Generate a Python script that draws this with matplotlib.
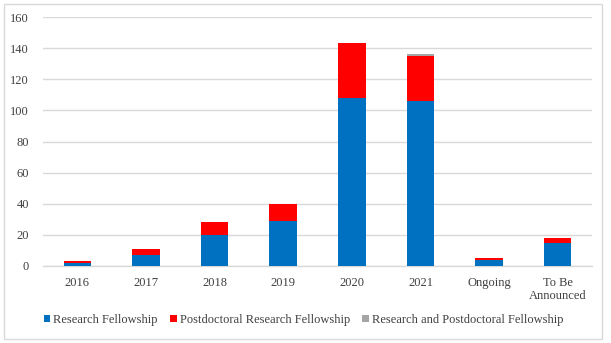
import numpy as np
import matplotlib.pyplot as plt
from matplotlib.patches import Rectangle

categories = ["2016", "2017", "2018", "2019", "2020", "2021", "Ongoing", "To Be\nAnnounced"]
research = [2, 7, 20, 29, 108, 106, 4, 15]
postdoc = [1, 4, 8, 11, 35, 29, 1, 3]
research_postdoc = [0, 0, 0, 0, 0, 1, 0, 0]
yticks = [0, 20, 40, 60, 80, 100, 120, 140, 160]

BLUE = "#0070c0"
RED = "#ff0000"
GRAY = "#a5a5a5"
GRID = "#d9d9d9"

plt.rcParams['font.family'] = ['Liberation Serif', 'DejaVu Serif']

fig = plt.figure(figsize=(6.11, 3.43), dpi=100)
ax = fig.add_axes([0.0704, 0.2245, 0.8985, 0.7259])

x = np.arange(len(categories))
w = 0.4
b1 = np.array(research)
b2 = b1 + np.array(postdoc)
ax.bar(x, research, w, color=BLUE, label="Research Fellowship", zorder=3)
ax.bar(x, postdoc, w, bottom=b1, color=RED, label="Postdoctoral Research Fellowship", zorder=3)
ax.bar(x, research_postdoc, w, bottom=b2, color=GRAY,
       label="Research and Postdoctoral Fellowship", zorder=3)

ax.set_xlim(-0.5, len(categories) - 0.5)
ax.set_ylim(0, 160)
ax.set_yticks(yticks)
ax.set_xticks(x)
ax.set_xticklabels(categories, fontsize=9, linespacing=1.05)
ax.tick_params(axis='y', labelsize=9, length=0, pad=10, labelcolor="#404040")
ax.tick_params(axis='x', length=0, pad=8, labelcolor="#404040")
ax.grid(axis='y', color=GRID, linewidth=1, zorder=0)
for s in ["top", "right", "left"]:
    ax.spines[s].set_visible(False)
ax.spines["bottom"].set_color(GRID)
ax.spines["bottom"].set_linewidth(1)

leg = fig.legend(loc="center", bbox_to_anchor=(0.497, 0.067), ncol=3, frameon=False,
                 fontsize=9, handlelength=0.5, handleheight=0.5, handletextpad=0.25,
                 columnspacing=1.0, labelcolor="#404040")

# light frame around the whole chart
fig.patches.append(Rectangle((4 / 611, 4 / 343), 598 / 611, 335 / 343, transform=fig.transFigure,
                             fill=False, edgecolor=GRID, linewidth=1))

fig.savefig("out.png", dpi=100)
